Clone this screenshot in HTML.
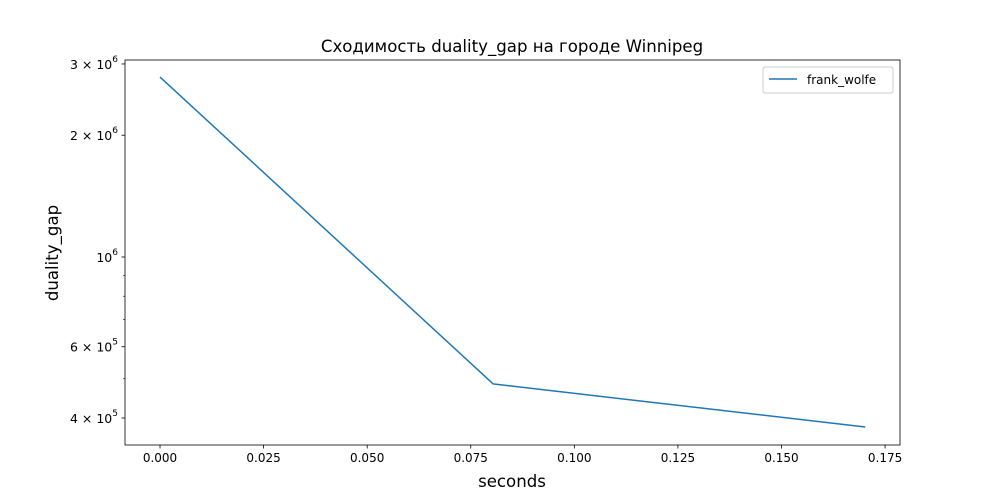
<!DOCTYPE html>
<html><head><meta charset="utf-8"><style>
body{margin:0;background:#fff;}
svg{display:block;font-family:"DejaVu Sans","Liberation Sans",sans-serif;}
</style></head><body>
<svg id="chart" width="1000" height="500">
<rect x="0" y="0" width="1000" height="500" fill="#fff"/>
<text x="512" y="52" font-size="16.6" text-anchor="middle">Сходимость duality_gap на городе Winnipeg</text>
<text x="512" y="487" font-size="16.6" text-anchor="middle">seconds</text>
<text x="58" y="253" font-size="16.6" text-anchor="middle" transform="rotate(-90 58 253)">duality_gap</text>
<g id="ticks"></g>
<g id="series"></g>
<rect x="125" y="60" width="775" height="385" fill="none" stroke="#000" stroke-width="0.8"/>
<g>
<rect x="763" y="67" width="130" height="26" rx="2" fill="#fff" stroke="#ccc" stroke-width="1"/>
<line x1="769" y1="79" x2="797" y2="79" stroke="#1f77b4" stroke-width="1.5"/>
<text x="807" y="84" font-size="12">frank_wolfe</text>
</g>
</svg>
<script>
const xValues=[0.0,0.0804,0.1702];
const yValues=[2785000,485600,380000];
const xTicks=[0.0,0.025,0.05,0.075,0.1,0.125,0.15,0.175];
const xTickLabels=["0.000","0.025","0.050","0.075","0.100","0.125","0.150","0.175"];
const yMajorTicks=[400000,600000,1000000,2000000,3000000];
const yMajorMant=["4","6","","2","3"];
const yMajorExp=["5","5","6","6","6"];
const yMinorTicks=[500000,700000,800000,900000];
const L=125,R=900,T=60,B=445;
const xmin=-0.00845,xmax=0.1786,lymin=5.5353,lymax=6.4869;
const sx=v=>L+(v-xmin)/(xmax-xmin)*(R-L);
const sy=v=>B-(Math.log10(v)-lymin)/(lymax-lymin)*(B-T);
const NS="http://www.w3.org/2000/svg";
const tg=document.getElementById('ticks');
function mk(tag,attrs,parent){const e=document.createElementNS(NS,tag);for(const k in attrs)e.setAttribute(k,attrs[k]);parent.appendChild(e);return e;}
xTicks.forEach((t,i)=>{const x=sx(t);
 const l=mk('line',{x1:x,x2:x,y1:B,y2:B+3.5,stroke:'#000','stroke-width':0.8},tg);
 
 
 const tx=mk('text',{x:x,y:B+17,'font-size':12,'text-anchor':'middle'},tg);tx.textContent=xTickLabels[i];
 
 
});
yMajorTicks.forEach((t,i)=>{const y=sy(t);
 const l=mk('line',{x1:L-3.5,x2:L,y1:y,y2:y,stroke:'#000','stroke-width':0.8},tg);
 
 
 const tx=mk('text',{x:L-7,y:y+5,'font-size':12.5,'text-anchor':'end'},tg);
 
 
 let s=(yMajorMant[i]?yMajorMant[i]+' × ':'')+'10';
 tx.textContent=s;
 const sup=mk('tspan',{dy:-7,'font-size':9},tx);sup.textContent=yMajorExp[i];
});
yMinorTicks.forEach(t=>{const y=sy(t);
 const l=mk('line',{x1:L-2,x2:L,y1:y,y2:y,stroke:'#000','stroke-width':0.6},tg);
 
 
});
const sg=document.getElementById('series');
const pts=xValues.map((x,i)=>sx(x)+','+sy(yValues[i])).join(' ');
const pl=mk('polyline',{points:pts,fill:'none',stroke:'#1f77b4','stroke-width':1.5,'stroke-linejoin':'round'},sg);


</script>
</body></html>
